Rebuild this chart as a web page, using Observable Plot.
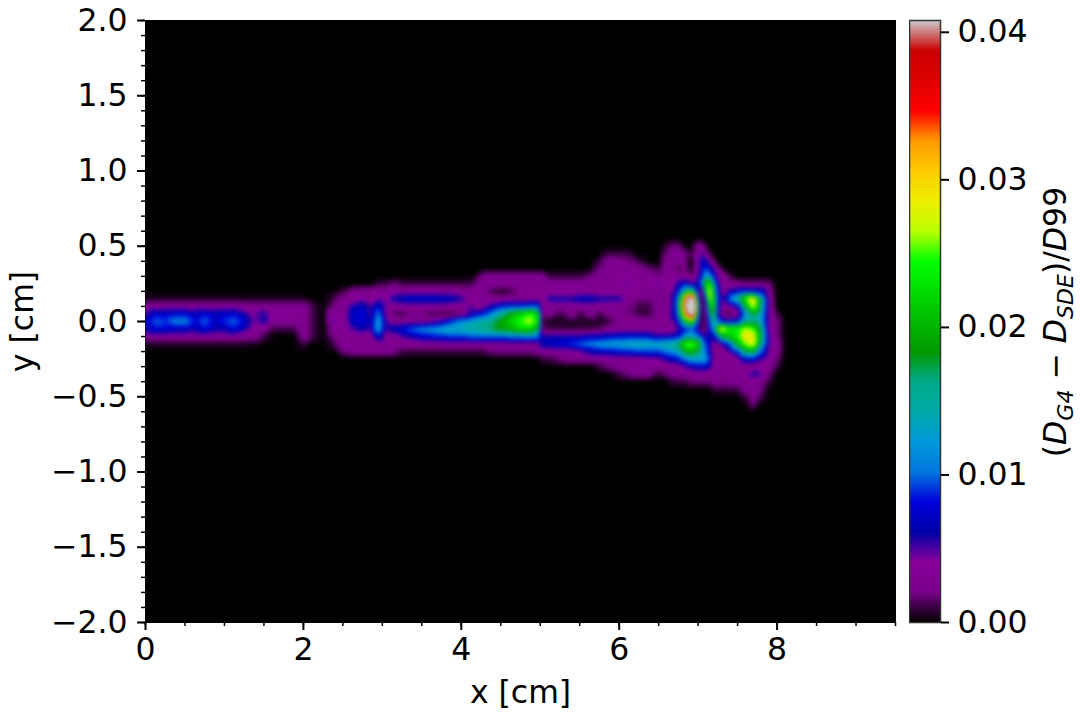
<!DOCTYPE html>
<html>
<head>
<meta charset="utf-8">
<script src="https://cdn.jsdelivr.net/npm/d3@7"></script>
<script src="https://cdn.jsdelivr.net/npm/@observablehq/plot@0.6"></script>
<style>
html,body{margin:0;padding:0;background:#fff}
#wrap{position:relative;width:1080px;height:720px;overflow:hidden;font-family:"DejaVu Sans",sans-serif}
#wrap svg{position:absolute;background:transparent}
#cblabel{position:absolute;left:1056px;top:322px;transform:translate(-50%,-50%) rotate(-90deg);white-space:nowrap;font-size:31.5px;color:#000;line-height:1}
#cblabel sub{font-size:22px;line-height:0;vertical-align:-0.3em}
</style>
</head>
<body>
<div id="wrap"><div id="cblabel">(<i>D</i><sub><i>G4</i></sub> − <i>D</i><sub><i>SDE</i></sub>)/<i>D</i>99</div></div>
<script>
// Values are in units of 1e-3 of the colour quantity.
const xTicks=[0,2,4,6,8];
const xMinor=[0,.5,1,1.5,2,2.5,3,3.5,4,4.5,5,5.5,6,6.5,7,7.5,8,8.5,9,9.5];
const yTicks=[-2,-1.5,-1,-.5,0,.5,1,1.5,2];
const yMinor=d3.range(-20,21).map(d=>d/10);
const cbTicks=[0,.01,.02,.03,.04];
const colorMax=.0408;
const palette=["#000000","#770088","#880099","#0000aa","#0000dd","#0077dd","#0099dd","#00aaaa","#00aa88","#009900","#00bb00","#00dd00","#00ff00","#bbff00","#eeee00","#ffcc00","#ff9900","#ff0000","#dd0000","#cc0000","#cccccc"];

// Left tail, x 0 .. 2.375
const tailX=[0,.125,.25,.375,.5,.625,.75,.875,1,1.125,1.25,1.375,1.5,1.625,1.75,1.875,2,2.125,2.25,2.375];
const tailY=[.2,.15,.1,.05,0,-.05,-.1,-.15,-.2];
const tailRows=[
[0,0,0,0,0,0,0,0,0,0,0,0,0,0,0,0,0,0,0,0],
[.5,.5,.5,.5,.5,.5,.5,.5,.5,.5,.5,.5,.5,.5,.5,.5,.5,0,0,1],
[3,3.5,3.5,3.5,3.5,3.5,3.5,3.5,3.5,3.5,3,3,3,3,3,3,3,1,0,2],
[5,7.5,7.5,8,8,6.5,8,7,7.5,8,6,4,6,3,4,3,3,1,0,4],
[7,10,9,11,11,8,10,7,9,10,8,4.5,6,3,3,3,3,1,0,5],
[6,8,8,7,7,6,8,6.5,6,8,6,3,3,1,1,1,3,1,0,3],
[3,3.5,3.5,3.5,3.5,3.5,3.5,3.5,3.5,3.5,3,3,1,0,0,0,3,1,0,2],
[.5,.5,.5,.5,.5,.5,.5,.5,.5,.5,.5,.5,0,0,0,0,1,0,0,1],
[0,0,0,0,0,0,0,0,0,0,0,0,0,0,0,0,0,0,0,0]
];

// Wedge, x 2.5 .. 6.375
const wedgeX=[2.5,2.625,2.75,2.85,2.95,3.05,3.15,3.25,3.375,3.5,3.625,3.75,3.875,4,4.125,4.25,4.375,4.5,4.625,4.75,4.875,4.97,5.03,5.125,5.25,5.375,5.5,5.625,5.75,5.875,6,6.125,6.25,6.375];
const wedgeY=[.5,.45,.4,.35,.3,.25,.2,.15,.1,.05,0,-.05,-.1,-.15,-.2,-.25,-.3,-.35,-.4];
const wedgeRows=[
[0,0,0,0,0, 0,0,0,0,0, 0,0,0,0,0, 0,0,0,0,0, 0,0,0,0,0, 0,0,0,0,0, 0,0,0,0],
[0,0,0,0,0, 0,0,0,0,0, 0,0,0,0,0, 0,0,0,0,0, 0,0,0,0,0, 0,0,0,0,1, 1,1,0,0],
[0,0,0,0,0, 0,0,0,0,0, 0,0,0,0,0, 0,0,0,0,0, 0,0,0,0,0, 0,0,0,1,3, 3,2,1,0],
[0,0,0,0,0, 0,0,0,0,0, 0,0,0,0,0, 0,0,0,0,0, 0,0,0,0,0, 0,0,0,2,3, 3,3,3,2],
[0,0,0,0,0, 0,0,0,0,0, 0,0,0,0,0, 2,3,3,3,3, 3,3,3,1,1, 1,1,2,3,3, 3,3,3,3],
[0,0,0,0,1, 1,2,1,1,1, 1,1,1,1,1, 3,3,3,3,3, 3,3,3,3,3, 3,3,3,3,3, 3,5,3,3],
[1,3,3,3,3, 3,3.5,3.5,3.5,3.5, 3.5,3.5,3.5,3,3, 3,1,.5,1,3, 3,3,3,3,3, 3,3,3,3,3, 3,3,3,3],
[3,3,4,3,4.5, 3.5,6,7,7.5,7.5, 7.5,7.5,7,6,3, 3,3,3,3,3, 3,4,3,6,6, 6,7,7,6,6, 6,3,2,2],
[3,6,7,5,8, 4,3,3.5,3.5,3.5, 3.5,3.5,3,3,5, 3,6,8,9,9, 10,10,3,3,3, 3,3,3,3,3, 2,2,1,1],
[3,7,8,5,11, 4,1.5,1,2,2, 1,1,1,2,6, 8,11,15,19,22, 25,22,2,3,1, 3,1,3,1,3, 3,2,1,1],
[3,7,8,6,13, 5,3,3,3,3, 4,6,9,12,13, 15,16,19,22,25, 27,23,1,.5,.5, .5,.5,.5,.5,1, 2,3,3,3],
[3,5,6,5,13, 5,7,8,10,11, 12,13,14,14,15, 16,17,19,20,22, 22,18,1.5,1,1, 1,1,1,1.5,3, 3,3,3,3],
[3,3,3,3,8, 3,3,5,6,7.5, 8,8.5,9,9,10, 10,10,10,11,11, 12,11,6,6,6, 6,6,7,7,7, 8,8,8,8],
[3,3,3,3,3, 3,3,3,3,3, 3,3,3,3,3, 3,3,3,3,3, 3,4,7,7,8, 9,10,11,12,13, 13,14,14,14],
[2,3,3,3,3, 3,2,1,1,1, 1,1,1,1,1, 1,2,2,2,2, 2,3,3,3,3, 3,4,6,7,7, 8,8,9,9],
[0,0,0,0,0, 0,0,0,0,0, 0,0,0,0,0, 0,0,0,0,0, 0,0,1,1,2, 3,3,3,3,3, 3,3,3,4],
[0,0,0,0,0, 0,0,0,0,0, 0,0,0,0,0, 0,0,0,0,0, 0,0,0,0,0, 0,0,0,1,2, 3,3,3,3],
[0,0,0,0,0, 0,0,0,0,0, 0,0,0,0,0, 0,0,0,0,0, 0,0,0,0,0, 0,0,0,0,0, 1,2,3,3],
[0,0,0,0,0, 0,0,0,0,0, 0,0,0,0,0, 0,0,0,0,0, 0,0,0,0,0, 0,0,0,0,0, 0,0,0,0]
];

// Hot structure, x 6.5 .. 8.1
const hotX=[6.5,6.6,6.7,6.75,6.8,6.85,6.9,6.95,7,7.05,7.1,7.15,7.2,7.25,7.3,7.35,7.4,7.5,7.6,7.7,7.8,7.9,8,8.1];
const hotY=[.55,.5,.45,.4,.35,.3,.25,.2,.15,.1,.05,0,-.05,-.1,-.15,-.2,-.25,-.3,-.35,-.4,-.45,-.5,-.55,-.6];
const hotRows=[
[0,0,0,0,0,0,0,0,0,0,0,0,0,0,0,0,0,0,0,0,0,0,0,0],
[0,1,2,2,1,0,0,1,3,3,1,0,0,0,0,0,0,0,0,0,0,0,0,0],
[0,2,3,3,3,2,1,2,3,5,3,1,0,0,0,0,0,0,0,0,0,0,0,0],
[0,3,3,3,3,2,0,2,4,7,6,4,2,0,0,0,0,0,0,0,0,0,0,0],
[1,3,2,1,2,2,0,2,4,7,9,7,5,3,1,0,0,0,0,0,0,0,0,0],
[2,3,3,3,3,3,2,3,5,8,14,12,8,4,3,3,1,0,0,0,0,0,0,0],
[5,3,4,6,7,7,6,5,7,12,21,24,13,7,3,3,3,3,2,2,2,2,0,0],
[3,2,5,8,12,17,20,16,6,3,19,28,17,8,4,3,6,7,8,8,8,3,0,0],
[2,2,7,12,24,38,48,42,12,0,10,27,19,9,5,7,11,15,24,31,16,4,0,0],
[3,2,7,14,28,44,58,52,16,0,6,21,20,8,4,3,4,6,18,28,15,4,0,0],
[3,3,7,12,24,36,46,40,13,0,4,15,19,7,3,1,1,3,12,18,13,4,1,0],
[3,3,5,8,13,20,24,20,9,0,3,10,17,11,8,7,7,8,15,16,13,4,2,0],
[3,3,3,5,7,8,9,9,7,0,3,8,12,25,30,26,24,24,27,25,16,4,2,0],
[6,6,7,8,10,14,14,12,11,9,5,6,6,10,18,20,21,24,30,29,17,5,2,0],
[14,15,16,17,22,25,26,25,21,14,9,6,3,3,5,7,10,19,26,29,15,5,3,0],
[9,11,12,13,16,19,20,19,17,14,10,6,3,3,3,3,5,9,17,18,10,4,3,0],
[4,6,7,8,10,11,13,13,13,13,13,8,3,3,3,3,3,3,7,8,5,3,2,0],
[3,3,3,3,4,5,6,6,7,7,7,6,3,3,3,3,3,3,3,3,3,3,1,0],
[1,2,3,3,3,3,3,3,3,3,3,3,3,3,3,2,3,3,3,6,5,2,0,0],
[0,0,1,1,1,1,2,2,2,2,2,2,3,3,3,2,3,3,3,3,2,1,0,0],
[0,0,0,0,0,0,0,0,0,0,0,0,1,1,1,1,1,1,3,3,2,0,0,0],
[0,0,0,0,0,0,0,0,0,0,0,0,0,0,0,0,0,0,1,3,1,0,0,0],
[0,0,0,0,0,0,0,0,0,0,0,0,0,0,0,0,0,0,0,2,0,0,0,0],
[0,0,0,0,0,0,0,0,0,0,0,0,0,0,0,0,0,0,0,0,0,0,0,0]
];

const frameCorners=[[0,2],[9.5,2],[0,-2],[9.5,-2]];

const samples=[];
for(const [xs,ys,rows] of [[tailX,tailY,tailRows],[wedgeX,wedgeY,wedgeRows],[hotX,hotY,hotRows]]){
  rows.forEach((r,j)=>r.forEach((v,i)=>samples.push({x:xs[i],y:ys[j],v:v/1000})));
}
frameCorners.forEach(([x,y])=>samples.push({x,y,v:0}));

const color={type:"linear",domain:palette.map((c,i)=>i/(palette.length-1)*colorMax),range:palette,interpolate:"rgb",clamp:true};
const font={fontFamily:"DejaVu Sans",fontSize:"31.5px",color:"#000",background:"transparent"};
const noLabel=()=>"";

const main=Plot.plot({
  width:1080,height:720,
  marginLeft:145,marginRight:185,marginTop:20,marginBottom:98,
  style:{...font,left:0,top:0},
  x:{domain:[0,9.5]},
  y:{domain:[-2,2]},
  color,
  marks:[
    Plot.frame({fill:"black",stroke:"black"}),
    Plot.raster(samples,{x:"x",y:"y",fill:"v",x1:0,x2:9.5,y1:-2,y2:2,interpolate:"barycentric",pixelSize:1,blur:1.5}),
    Plot.axisX(xMinor,{tickSize:4,strokeWidth:1.5,tickFormat:noLabel,label:null}),
    Plot.axisY(yMinor,{tickSize:4,strokeWidth:1.5,tickFormat:noLabel,label:null}),
    Plot.axisX(xTicks,{tickSize:8,strokeWidth:2,tickPadding:7,tickFormat:d=>String(d),label:"x [cm]",labelArrow:"none",labelAnchor:"center",labelOffset:80,fontSize:31.5}),
    Plot.axisY(yTicks,{tickSize:8,strokeWidth:2,tickPadding:10,tickFormat:d3.format(".1f"),label:"y [cm]",labelArrow:"none",labelAnchor:"center",labelOffset:135,fontSize:31.5})
  ]
});

const bar=Plot.plot({
  width:171,height:720,
  marginLeft:0,marginRight:140,marginTop:20,marginBottom:98,
  style:{...font,left:"909px",top:0},
  x:{domain:[0,1],axis:null},
  y:{domain:[0,colorMax],axis:null},
  color,
  marks:[
    Plot.raster({fill:(x,y)=>y,x1:0,x2:1,y1:0,y2:colorMax,pixelSize:1}),
    Plot.frame({stroke:"#333",strokeWidth:1.5}),
    Plot.axisY(cbTicks,{anchor:"right",tickSize:8,strokeWidth:2,tickPadding:9,tickFormat:d3.format(".2f"),label:null,fontSize:31.5})
  ]
});

const wrap=document.getElementById("wrap");
wrap.appendChild(main);
wrap.appendChild(bar);
</script>
</body>
</html>
